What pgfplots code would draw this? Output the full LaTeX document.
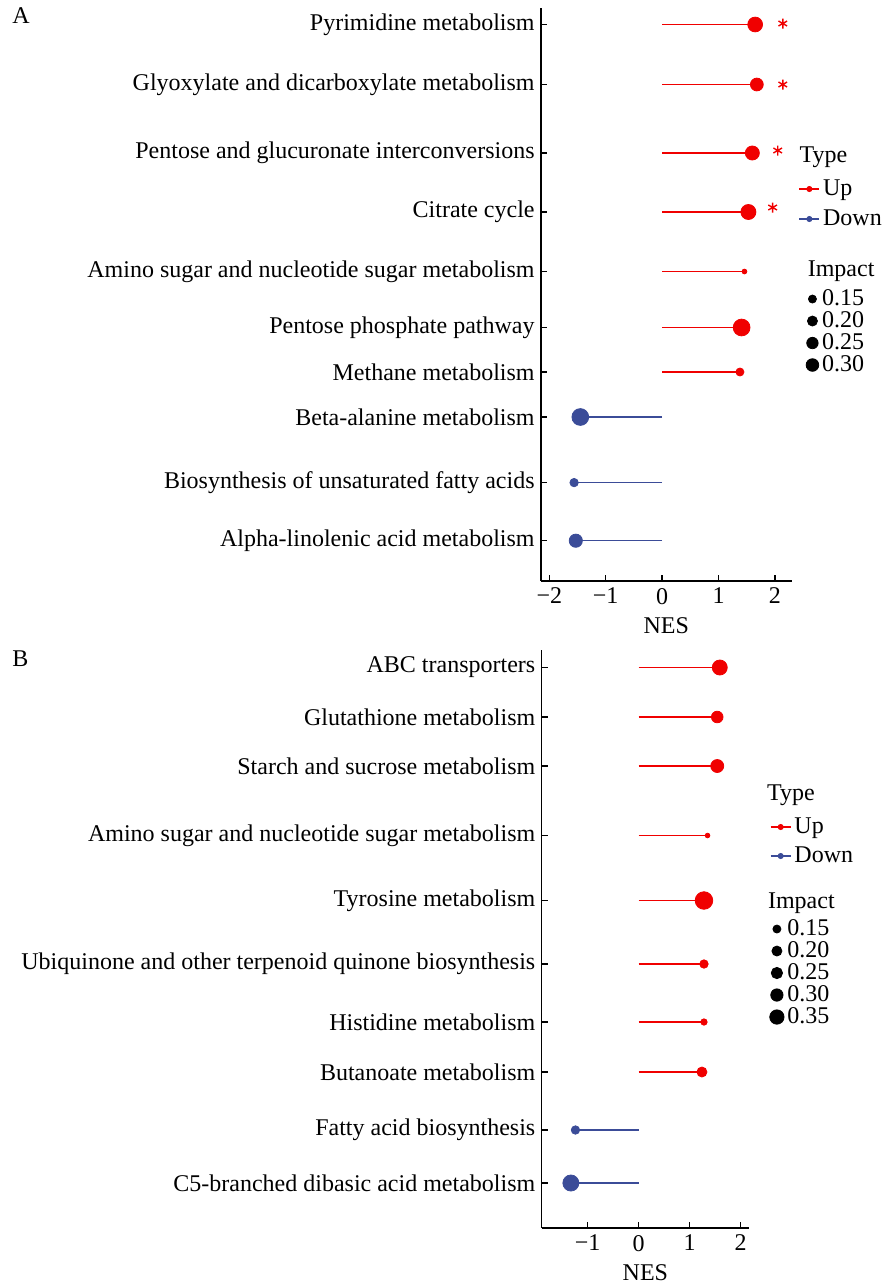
\documentclass[border=0pt]{standalone}
\usepackage{fontspec}
\setmainfont{Liberation Serif}
\usepackage{pgfplots}
\usepackage{pgfplotstable}
\pgfplotsset{compat=1.18}
\definecolor{upred}{RGB}{240,0,0}
\definecolor{downblue}{RGB}{59,76,152}

% panel A: pos (row position), NES, impact
\pgfplotstableread{
pos nes imp
-24.5 1.65 0.282
-84.5 1.68 0.244
-153 1.60 0.267
-212 1.53 0.286
-271.5 1.46 0.090
-327.5 1.41 0.320
-372 1.38 0.151
}\Aup
\pgfplotstableread{
pos nes imp
-417 -1.45 0.320
-482.6 -1.56 0.159
-540.7 -1.53 0.251
}\Adown
\pgfplotstableread{
pos nes
-23.5 2.14
-84.5 2.14
-150.5 2.05
-207.5 1.96
}\Astar
% panel B
\pgfplotstableread{
pos nes imp
-667.5 1.59 0.332
-717 1.54 0.255
-766 1.54 0.286
-835.5 1.35 0.097
-900.5 1.28 0.390
-964 1.28 0.182
-1022 1.28 0.136
-1072 1.24 0.218
}\Bup
\pgfplotstableread{
pos nes imp
-1130 -1.24 0.182
-1183 -1.33 0.355
}\Bdown

\newcommand{\fs}{\rmfamily\fontsize{12}{14}\selectfont}
\tikzset{ttl/.style={anchor=base west, inner sep=0pt, font=\fs}}

\pgfplotsset{
  lolli/.style={
    scale only axis, clip=false,
    axis x line*=bottom, axis y line*=left,
    axis line style={line width=0.75pt,-,black},
    tick align=inside, major tick length=3pt,
    tick style={line width=0.75pt, black},
    ticklabel style={font=\fs},
    label style={font=\fs},
    xlabel={NES},
    yticklabel style={inner xsep=3pt},
    legend style={draw=none, fill=none, inner sep=0pt, outer sep=0pt,
      column sep=1.5pt, anchor=north west,
      nodes={inner sep=0pt, text height=8.5pt, text depth=2.5pt, font=\fs}},
    legend cell align=left,
  },
  typeleg/.style={
    legend image code/.code={
      \draw[##1, line width=0.75pt] (0pt,0pt) -- (10pt,0pt);
      \fill[##1] (5pt,0pt) circle (1.3pt);}
  },
  impleg/.style={
    legend image code/.code={\draw[##1] plot coordinates {(0pt,0pt)};}
  },
}

\begin{document}
\begin{tikzpicture}[font=\fs]
\useasboundingbox (0,0) rectangle (441pt,-642.5pt);

% ---------------- Panel A ----------------
\begin{axis}[lolli, typeleg,
  at={(270.5pt,-4pt)}, anchor=north west,
  width=125.3pt, height=286.5pt,
  xmin=-2.147, xmax=2.296, ymin=-581, ymax=-8,
  xtick={-2,-1,0,1,2}, xticklabels={−2,−1,0,1,2},
  ytick={-24.5,-84.5,-153,-212,-271.5,-327.5,-372,-417,-482.6,-540.7},
  yticklabels={Pyrimidine metabolism, Glyoxylate and dicarboxylate metabolism,
    Pentose and glucuronate interconversions, Citrate cycle,
    Amino sugar and nucleotide sugar metabolism, Pentose phosphate pathway,
    Methane metabolism, Beta-alanine metabolism,
    Biosynthesis of unsaturated fatty acids, Alpha-linolenic acid metabolism},
  legend style={at={(axis description cs:1.028,0.7033)}, row sep=4pt},
]
\addplot[xcomb, upred, line width=0.8pt, forget plot] table[x=nes,y=pos]{\Aup};
\addplot[xcomb, downblue, line width=0.75pt, forget plot] table[x=nes,y=pos]{\Adown};
\addplot[scatter, only marks, mark=*, forget plot,
  scatter/use mapped color={draw=upred, fill=upred},
  visualization depends on={\thisrow{imp} \as \imp},
  scatter/@pre marker code/.append style={/tikz/mark size={1.2+13.04*(\imp-0.09)}}]
  table[x=nes,y=pos]{\Aup};
\addplot[scatter, only marks, mark=*, forget plot,
  scatter/use mapped color={draw=downblue, fill=downblue},
  visualization depends on={\thisrow{imp} \as \imp},
  scatter/@pre marker code/.append style={/tikz/mark size={1.2+13.04*(\imp-0.09)}}]
  table[x=nes,y=pos]{\Adown};
\addplot[only marks, mark=asterisk, mark size=2.5pt, upred, line width=0.7pt, forget plot]
  table[x=nes,y=pos]{\Astar};
\addlegendimage{upred}
\addlegendentry{Up}
\addlegendimage{downblue}
\addlegendentry{Down}
\node[ttl] at (axis description cs:1.030,0.7295) {Type};
\node[ttl] at (axis description cs:1.063,0.532) {Impact};
\end{axis}

\begin{axis}[lolli, impleg, hide axis,
  at={(270.5pt,-4pt)}, anchor=north west,
  width=125.3pt, height=286.5pt,
  xmin=-2.147, xmax=2.296, ymin=-581, ymax=-8,
  legend style={at={(axis description cs:1.058,0.5113)}, row sep=0pt, column sep=1.7pt},
]
\addlegendimage{only marks, mark=*, black, mark size=2.0pt}
\addlegendentry{0.15}
\addlegendimage{only marks, mark=*, black, mark size=2.5pt}
\addlegendentry{0.20}
\addlegendimage{only marks, mark=*, black, mark size=2.85pt}
\addlegendentry{0.25}
\addlegendimage{only marks, mark=*, black, mark size=3.15pt}
\addlegendentry{0.30}
\end{axis}

% ---------------- Panel B ----------------
\begin{axis}[lolli, typeleg,
  at={(270.85pt,-325pt)}, anchor=north west,
  width=103.65pt, height=289pt,
  xmin=-1.902, xmax=2.163, ymin=-1228, ymax=-650,
  xtick={-1,0,1,2}, xticklabels={−1,0,1,2},
  ytick={-667.5,-717,-766,-835.5,-900.5,-964,-1022,-1072,-1130,-1183},
  yticklabels={ABC transporters, Glutathione metabolism,
    Starch and sucrose metabolism, Amino sugar and nucleotide sugar metabolism,
    Tyrosine metabolism, Ubiquinone and other terpenoid quinone biosynthesis,
    Histidine metabolism, Butanoate metabolism,
    Fatty acid biosynthesis, C5-branched dibasic acid metabolism},
  legend style={at={(axis description cs:1.101,0.7128)}, row sep=3.5pt},
]
\addplot[xcomb, upred, line width=0.8pt, forget plot] table[x=nes,y=pos]{\Bup};
\addplot[xcomb, downblue, line width=0.75pt, forget plot] table[x=nes,y=pos]{\Bdown};
\addplot[scatter, only marks, mark=*, forget plot,
  scatter/use mapped color={draw=upred, fill=upred},
  visualization depends on={\thisrow{imp} \as \imp},
  scatter/@pre marker code/.append style={/tikz/mark size={1.2+11.0*(\imp-0.10)}}]
  table[x=nes,y=pos]{\Bup};
\addplot[scatter, only marks, mark=*, forget plot,
  scatter/use mapped color={draw=downblue, fill=downblue},
  visualization depends on={\thisrow{imp} \as \imp},
  scatter/@pre marker code/.append style={/tikz/mark size={1.2+11.0*(\imp-0.10)}}]
  table[x=nes,y=pos]{\Bdown};
\addlegendimage{upred}
\addlegendentry{Up}
\addlegendimage{downblue}
\addlegendentry{Down}
\node[ttl] at (axis description cs:1.085,0.740) {Type};
\node[ttl] at (axis description cs:1.090,0.5536) {Impact};
\end{axis}

\begin{axis}[lolli, impleg, hide axis,
  at={(270.85pt,-325pt)}, anchor=north west,
  width=103.65pt, height=289pt,
  xmin=-1.902, xmax=2.163, ymin=-1228, ymax=-650,
  legend style={at={(axis description cs:1.100,0.5363)}, row sep=0pt, column sep=1.7pt},
]
\addlegendimage{only marks, mark=*, black, mark size=2.0pt}
\addlegendentry{0.15}
\addlegendimage{only marks, mark=*, black, mark size=2.5pt}
\addlegendentry{0.20}
\addlegendimage{only marks, mark=*, black, mark size=2.83pt}
\addlegendentry{0.25}
\addlegendimage{only marks, mark=*, black, mark size=3.08pt}
\addlegendentry{0.30}
\addlegendimage{only marks, mark=*, black, mark size=3.58pt}
\addlegendentry{0.35}
\end{axis}

\node[ttl] at (6pt,-12pt) {A};
\node[ttl] at (6pt,-333pt) {B};
\end{tikzpicture}
\end{document}
